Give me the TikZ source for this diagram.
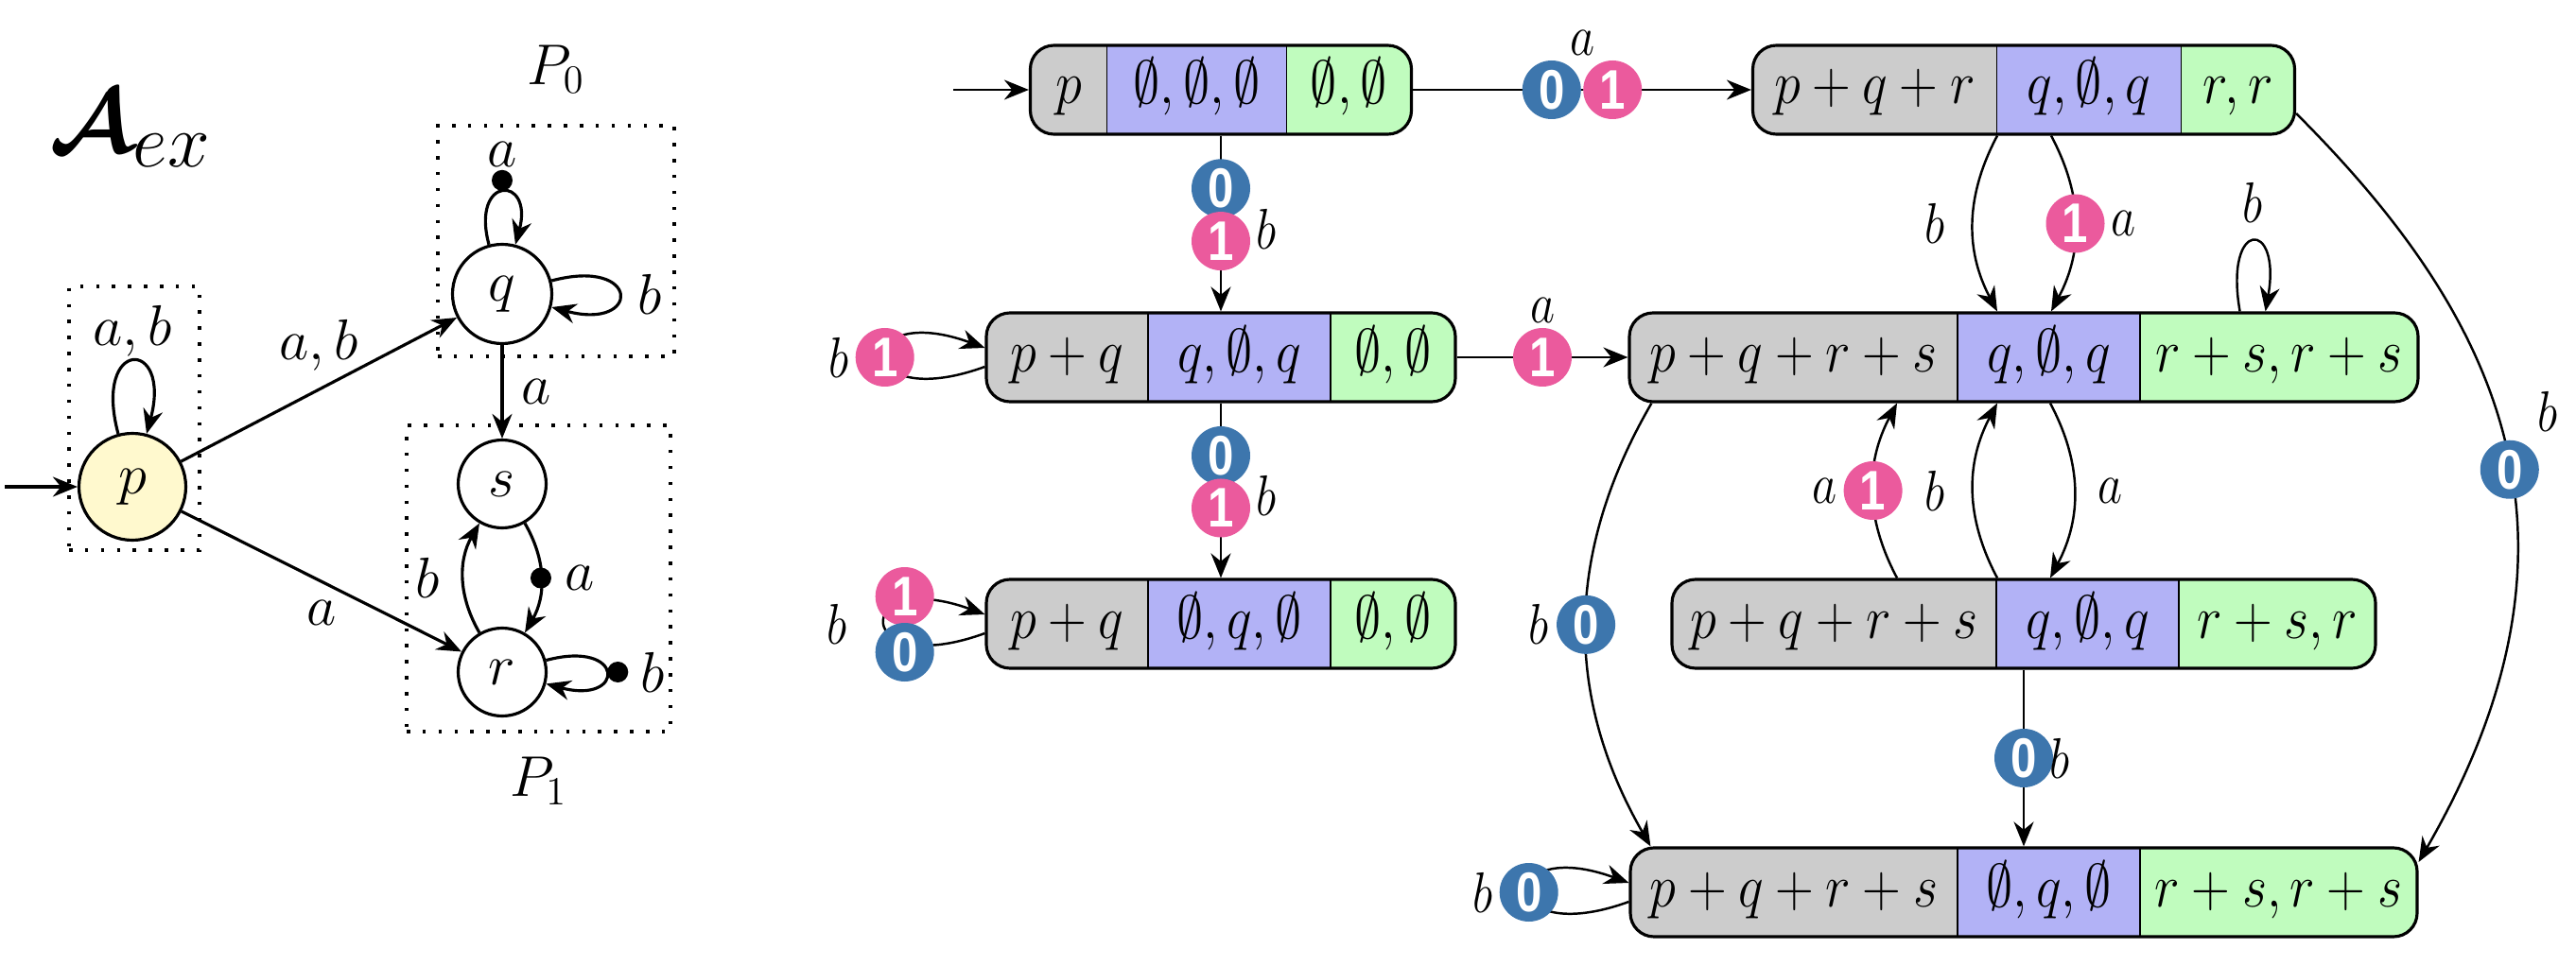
\documentclass[tikz,border=0pt]{standalone}
\usepackage{amsmath}
\usepackage{graphicx}
\usepackage{fontspec}
\newfontfamily\badgefont{Liberation Sans}
\usetikzlibrary{arrows.meta,positioning}

\definecolor{cellP}{RGB}{204,204,204}
\definecolor{cellQ}{RGB}{178,178,246}
\definecolor{cellR}{RGB}{192,252,190}
\definecolor{zeroBlue}{RGB}{61,118,173}
\definecolor{onePink}{RGB}{235,90,157}
\definecolor{initFill}{RGB}{255,249,206}

\newcommand{\cell}[2]{\makebox[#1]{\scalebox{0.93}[1.06]{$#2$}}}
\newcommand{\tall}[1]{\scalebox{1}[1.2]{#1}}

\begin{document}
\begin{tikzpicture}[
    >={Stealth[length=2.6mm,width=2.1mm]},
    line width=0.7pt,
    every loop/.style={looseness=9},
    aut/.style={->, line width=0.9pt},
    state/.style={circle, draw, line width=0.9pt, inner sep=0pt,
        font=\fontsize{17.28}{20}\selectfont},
    partbox/.style={rectangle, draw, line width=1pt,
        dash pattern=on 1pt off 3.8pt, inner sep=0pt},
    lab/.style={font=\fontsize{17.28}{20}\selectfont, inner sep=1pt},
    bullet/.style={circle, fill=black, inner sep=0pt, minimum size=2.2mm},
    stbox/.style 2 args={
        rectangle, rounded corners=2.5mm, draw, line width=0.9pt,
        fill=cellQ, inner sep=0pt, minimum height=0.94cm,
        text height=0.42cm, text depth=0.12cm,
        font=\fontsize{17.28}{20}\selectfont,
        path picture={
            \fill[cellP, sharp corners] (path picture bounding box.south west)
                rectangle ([xshift=#1]path picture bounding box.north west);
            \fill[cellR, sharp corners] ([xshift=-#2]path picture bounding box.south east)
                rectangle (path picture bounding box.north east);
            \draw[line width=0.5pt] ([xshift=#1]path picture bounding box.south west)
                -- ([xshift=#1]path picture bounding box.north west);
            \draw[line width=0.5pt] ([xshift=-#2]path picture bounding box.south east)
                -- ([xshift=-#2]path picture bounding box.north east);
        }
    },
    lbl/.style={font=\fontsize{14.4}{17}\selectfont, inner sep=1pt},
    badge/.style={circle, text=white, inner sep=0pt, minimum size=0.62cm,
        font=\badgefont\bfseries\fontsize{14}{14}\selectfont},
    zero/.style={badge, fill=zeroBlue},
    one/.style={badge, fill=onePink},
]
\useasboundingbox (0,0) rectangle (27.24,-10.22);

% ── Automaton A_ex (left) ────────────────────────────────────
\node[lab, font=\fontsize{24.88}{28}\selectfont] (ttl) at (1.38,-1.36)
    {\scalebox{1.1}{$\boldsymbol{\mathcal{A}}_{ex}$}};

\node[state, fill=initFill, minimum size=1.13cm] (p) at (1.40,-5.15) {$p$};
\node[state, minimum size=1.05cm] (q) at (5.31,-3.11) {$q$};
\node[state, minimum size=0.93cm] (s) at (5.31,-5.12) {$s$};
\node[state, minimum size=0.93cm] (r) at (5.31,-7.11) {$r$};

% ── Priority groups ──────────────────────────────────────────
\node[partbox, minimum width=1.38cm, minimum height=2.79cm] (grpP) at (1.42,-4.425) {};
\node[partbox, minimum width=2.50cm, minimum height=2.44cm] (grp0) at (5.88,-2.55) {};
\node[partbox, minimum width=2.79cm, minimum height=3.24cm] (grp1) at (5.695,-6.12) {};
\node[lab, above=0.28cm of grp0] (P0) {$P_0$};
\node[lab, below=0.2cm of grp1] (P1) {$P_1$};

% ── Transitions of A_ex ──────────────────────────────────────
\coordinate (pin) at (0.05,-5.15);
\draw[aut] (pin) -- (p);
\path[aut] (p) edge[loop above] node[lab, above] {$a, b$} ();
\draw[aut] (p) -- node[lab, above=1.5mm] {$a, b$} (q);
\draw[aut] (p) -- node[lab, below=1.5mm] {$a$} (r);
\path[aut] (q) edge[every loop/.style={looseness=7}, loop above]
    node[bullet] {} node[lab, above=2.2mm] {$a$} ();
\path[aut] (q) edge[loop right] node[lab, right=1.5mm] {$b$} ();
\draw[aut] (q) -- node[lab, right=1.5mm] {$a$} (s);
\draw[aut] (s) to[bend left=30] node[bullet] {} node[lab, right=2mm] {$a$} (r);
\draw[aut] (r) to[bend left=30] node[lab, left=2mm] {$b$} (s);
\path[aut] (r) edge[loop right] node[bullet] {} node[lab, right=3.2mm] {$b$} ();

% ── Product states (right) ───────────────────────────────────
\node[stbox={0.81cm}{1.32cm}] (D0) at (12.91,-0.95)
    {\cell{0.81cm}{p}\cell{1.90cm}{\emptyset,\emptyset,\emptyset}\cell{1.32cm}{\emptyset,\emptyset}};
\node[stbox={2.58cm}{1.20cm}] (D1) at (21.40,-0.95)
    {\cell{2.58cm}{p+q+r}\cell{1.95cm}{q,\emptyset,q}\cell{1.20cm}{r,r}};
\node[stbox={1.71cm}{1.32cm}] (D2) at (12.91,-3.78)
    {\cell{1.71cm}{p+q}\cell{1.93cm}{q,\emptyset,q}\cell{1.32cm}{\emptyset,\emptyset}};
\node[stbox={3.47cm}{2.94cm}] (D3) at (21.40,-3.78)
    {\cell{3.47cm}{p+q+r+s}\cell{1.93cm}{q,\emptyset,q}\cell{2.94cm}{r+s,r+s}};
\node[stbox={1.71cm}{1.32cm}] (D4) at (12.91,-6.60)
    {\cell{1.71cm}{p+q}\cell{1.93cm}{\emptyset,q,\emptyset}\cell{1.32cm}{\emptyset,\emptyset}};
\node[stbox={3.43cm}{2.08cm}] (D5) at (21.40,-6.60)
    {\cell{3.43cm}{p+q+r+s}\cell{1.93cm}{q,\emptyset,q}\cell{2.08cm}{r+s,r}};
\node[stbox={3.46cm}{2.93cm}] (D6) at (21.40,-9.44)
    {\cell{3.46cm}{p+q+r+s}\cell{1.93cm}{\emptyset,q,\emptyset}\cell{2.93cm}{r+s,r+s}};

% ── Product transitions ──────────────────────────────────────
\coordinate (Din) at (10.08,-0.95);
\draw[->] (Din) -- (D0);
\draw[->] (D0) -- node[zero, pos=.41] {\tall{0}} node[one, pos=.59] {\tall{1}}
    node[lbl, pos=.5, above=3.2mm] {\tall{$a$}} (D1);
\draw[->] (D0) -- node[zero, pos=.30] {\tall{0}} node[one, pos=.60] {\tall{1}}
    node[lbl, pos=.53, right=3.3mm] {\tall{$b$}} (D2);
\draw[->] ([yshift=-1mm]D2.west) to[out=200, in=160, min distance=1.5cm]
    node[one] {\tall{1}} node[lbl, left=3.3mm] {\tall{$b$}} ([yshift=1mm]D2.west);
\draw[->] (D2) -- node[one] {\tall{1}} node[lbl, above=3.2mm] {\tall{$a$}} (D3);
\draw[->] (D2) -- node[zero, pos=.30] {\tall{0}} node[one, pos=.60] {\tall{1}}
    node[lbl, pos=.53, right=3.3mm] {\tall{$b$}} (D4);
\draw[->] ([yshift=-1mm]D4.west) to[out=200, in=160, min distance=1.5cm]
    node[one, xshift=2.1mm, yshift=2.9mm] {\tall{1}}
    node[zero, xshift=2.1mm, yshift=-3mm] {\tall{0}}
    node[lbl, left=3.5mm] {\tall{$b$}} ([yshift=1mm]D4.west);

\draw[->] ([xshift=-2.8mm]D1.south) to[bend right=28]
    node[lbl, left=2.5mm] {\tall{$b$}} ([xshift=-2.8mm]D3.north);
\draw[->] ([xshift=2.9mm]D1.south) to[bend left=28]
    node[one] {\tall{1}} node[lbl, right=3.3mm] {\tall{$a$}} ([xshift=2.9mm]D3.north);
\draw[->] ([xshift=-19mm]D3.north east) to[out=100, in=80, min distance=1cm]
    node[lbl, above=1.5mm] {\tall{$b$}} ([xshift=-16.3mm]D3.north east);

\draw[->] ([xshift=-13.4mm]D5.north) to[bend left=28]
    node[one] {\tall{1}} node[lbl, left=3.3mm] {\tall{$a$}} ([xshift=-13.4mm]D3.south);
\draw[->] ([xshift=-2.8mm]D5.north) to[bend left=28]
    node[lbl, left=2.5mm] {\tall{$b$}} ([xshift=-2.8mm]D3.south);
\draw[->] ([xshift=2.8mm]D3.south) to[bend left=28]
    node[lbl, right=2mm] {\tall{$a$}} ([xshift=2.8mm]D5.north);

\draw[->] ([xshift=2.5mm]D3.south west) to[bend right=30]
    node[zero] {\tall{0}} node[lbl, left=3.5mm] {\tall{$b$}} ([xshift=2.3mm]D6.north west);
\draw[->] (D5) -- node[zero] {\tall{0}} node[lbl, right=2.3mm] {\tall{$b$}} (D6);
\draw[->] ([yshift=-2.5mm]D1.east) to[out=-45, in=60, out distance=3cm, in distance=4cm]
    node[zero, pos=.54] {\tall{0}}
    node[lbl, pos=.54, anchor=south west, xshift=2.5mm, yshift=3.5mm] {\tall{$b$}}
    ([yshift=3.2mm]D6.east);
\draw[->] ([yshift=-1mm]D6.west) to[out=200, in=160, min distance=1.5cm]
    node[zero] {\tall{0}} node[lbl, left=3.3mm] {\tall{$b$}} ([yshift=1mm]D6.west);

\end{tikzpicture}
\end{document}
